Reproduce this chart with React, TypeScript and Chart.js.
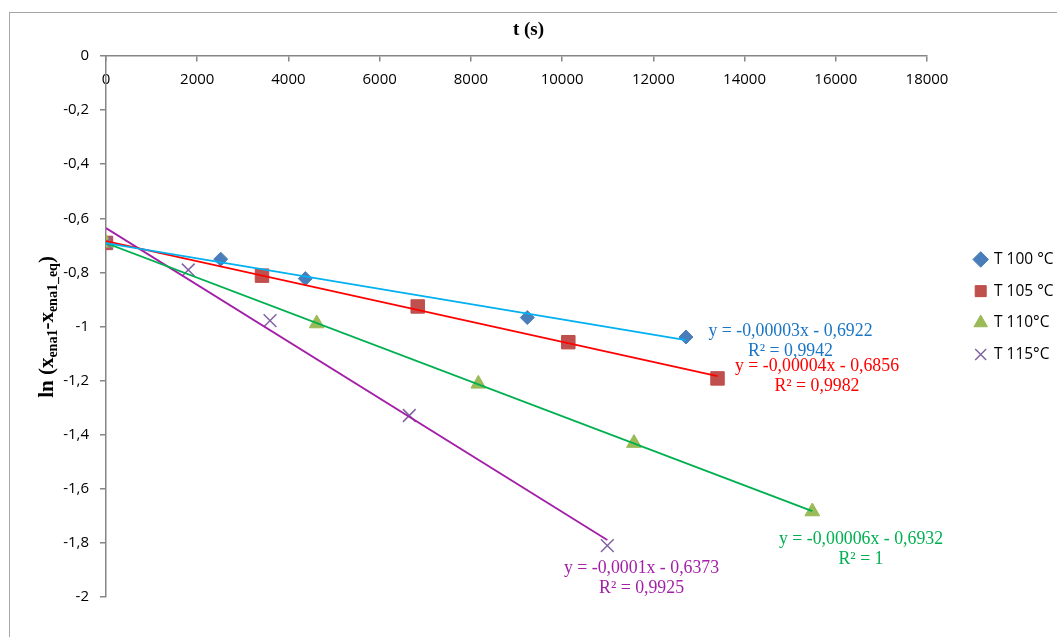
import React, { useEffect, useRef } from 'react';
import { Chart, registerables } from 'chart.js';

Chart.register(...registerables);

// ---------- data ----------
const seriesNames = ['T 100 °C', 'T 105 °C', 'T 110°C', 'T 115°C'];

const t100X = [0, 2515, 4370, 9237, 12716];
const t100Y = [-0.691, -0.751, -0.823, -0.967, -1.039];

const t105X = [0, 3420, 6834, 10136, 13407];
const t105Y = [-0.691, -0.812, -0.926, -1.058, -1.192];

const t110X = [0, 4620, 8163, 11576, 15485];
const t110Y = [-0.691, -0.989, -1.212, -1.431, -1.684];

const t115X = [0, 1804, 3596, 6650, 10991];
const t115Y = [-0.691, -0.791, -0.978, -1.329, -1.81];

const equationLabels = [
  'y = -0,00003x - 0,6922',
  'y = -0,00004x - 0,6856',
  'y = -0,00006x - 0,6932',
  'y = -0,0001x - 0,6373',
];
const r2Labels = ['R² = 0,9942', 'R² = 0,9982', 'R² = 1', 'R² = 0,9925'];

const xAxisTitle = 't (s)';
const xTickMin = 0;
const xTickMax = 18000;
const xTickStep = 2000;
const yTickMin = -2;
const yTickMax = 0;
const yTickStep = 0.2;

// ---------- styles ----------
const markerStyles = [
  { pointStyle: 'rectRot', radius: 7, fill: '#4A7EBB', stroke: '#4A7EBB', width: 1 },
  { pointStyle: 'rect', radius: 9.5, fill: '#C0504D', stroke: '#BE4B48', width: 1 },
  { pointStyle: 'triangle', radius: 8.5, fill: '#9BBB59', stroke: '#98B954', width: 1 },
  { pointStyle: 'crossRot', radius: 9, fill: '#8064A2', stroke: '#8064A2', width: 1.5 },
];
const trendColors = ['#00B0F0', '#FF0000', '#00B050', '#A31FA8'];
const labelColors = ['#1A75C4', '#FF0000', '#00B050', '#A31FA8'];
// label anchor (center of first line) in data units
const labelAnchorX = [15007, 15588, 16553, 11741];
const labelAnchorY = [-1.0188, -1.1456, -1.786, -1.893];

const xs = [t100X, t105X, t110X, t115X];
const ys = [t100Y, t105Y, t110Y, t115Y];

function linearFit(x: number[], y: number[]) {
  const n = x.length;
  const mx = x.reduce((a, b) => a + b, 0) / n;
  const my = y.reduce((a, b) => a + b, 0) / n;
  let sxx = 0;
  let sxy = 0;
  for (let i = 0; i < n; i++) {
    sxx += (x[i] - mx) * (x[i] - mx);
    sxy += (x[i] - mx) * (y[i] - my);
  }
  const slope = sxy / sxx;
  const intercept = my - slope * mx;
  const x0 = Math.min(...x);
  const x1 = Math.max(...x);
  return [
    { x: x0, y: intercept + slope * x0 },
    { x: x1, y: intercept + slope * x1 },
  ];
}

const fmtNum = (v: number) => {
  const r = Math.round(v * 10) / 10;
  return String(r === 0 ? 0 : r).replace('.', ',');
};

const framePlugin = {
  id: 'frame',
  beforeDraw(chart: any) {
    const ctx = chart.ctx;
    ctx.save();
    ctx.fillStyle = '#ffffff';
    ctx.fillRect(0, 0, chart.width, chart.height);
    ctx.strokeStyle = '#A6A6A6';
    ctx.lineWidth = 1;
    ctx.strokeRect(9.5, 12.5, chart.width + 20, chart.height + 20);
    ctx.restore();
  },
};

const yTitlePlugin = {
  id: 'yTitle',
  afterDraw(chart: any) {
    const ctx = chart.ctx;
    const big = 'bold 21px "Liberation Serif"';
    const small = 'bold 14px "Liberation Serif"';
    const segs = [
      { t: 'ln (', f: big, dy: 0 },
      { t: 'x', f: big, dy: 0 },
      { t: 'ena1', f: small, dy: 4 },
      { t: '-', f: big, dy: 0 },
      { t: 'x', f: big, dy: 0 },
      { t: 'ena1_eq', f: small, dy: 4 },
      { t: ')', f: big, dy: 0 },
    ];
    ctx.save();
    let total = 0;
    for (const s of segs) {
      ctx.font = s.f;
      total += ctx.measureText(s.t).width;
    }
    ctx.translate(53, 327);
    ctx.rotate(-Math.PI / 2);
    ctx.fillStyle = '#000';
    ctx.textBaseline = 'alphabetic';
    ctx.textAlign = 'left';
    let x = -total / 2;
    for (const s of segs) {
      ctx.font = s.f;
      ctx.fillText(s.t, x, s.dy);
      x += ctx.measureText(s.t).width;
    }
    ctx.restore();
  },
};

const eqLabelPlugin = {
  id: 'eqLabels',
  afterDatasetsDraw(chart: any) {
    const ctx = chart.ctx;
    const sx = chart.scales.x;
    const sy = chart.scales.y;
    ctx.save();
    ctx.font = '17.8px "Liberation Serif"';
    ctx.textAlign = 'center';
    ctx.textBaseline = 'middle';
    for (let i = 0; i < equationLabels.length; i++) {
      const px = sx.getPixelForValue(labelAnchorX[i]);
      const py = sy.getPixelForValue(labelAnchorY[i]);
      ctx.fillStyle = labelColors[i];
      ctx.fillText(equationLabels[i], px, py);
      ctx.fillText(r2Labels[i], px, py + 20);
    }
    ctx.restore();
  },
};

const legendPatch = {
  id: 'legendPatch',
  beforeLayout(chart: any) {
    const lg = chart.legend;
    if (lg && !lg.__patched) {
      const orig = lg.fit.bind(lg);
      lg.fit = function () {
        orig();
        this.width = 100;
      };
      lg.__patched = true;
    }
  },
  afterLayout(chart: any) {
    const lg = chart.legend;
    if (lg) {
      lg.left += 32;
      lg.right += 32;
      lg.top += 2.5;
      lg.bottom += 2.5;
    }
  },
};

export default function App() {
  const ref = useRef<HTMLCanvasElement | null>(null);

  useEffect(() => {
    if (!ref.current) return;
    const markerDatasets = seriesNames.map((name, i) => ({
      label: name,
      data: xs[i].map((x, j) => ({ x, y: ys[i][j] })),
      showLine: false,
      pointStyle: markerStyles[i].pointStyle,
      pointRadius: markerStyles[i].radius,
      pointHoverRadius: markerStyles[i].radius,
      backgroundColor: markerStyles[i].fill,
      borderColor: markerStyles[i].stroke,
      pointBorderWidth: markerStyles[i].width,
      borderWidth: markerStyles[i].width,
      order: 4 - i,
    }));
    const trendDatasets = seriesNames.map((name, i) => ({
      label: name + ' trend',
      data: linearFit(xs[i], ys[i]),
      showLine: true,
      pointRadius: 0,
      borderColor: trendColors[i],
      backgroundColor: trendColors[i],
      borderWidth: 1.8,
      fill: false,
      order: 0,
    }));

    const chart = new Chart(ref.current, {
      type: 'scatter',
      data: { datasets: [...markerDatasets, ...trendDatasets] as any },
      plugins: [framePlugin, yTitlePlugin, eqLabelPlugin, legendPatch],
      options: {
        responsive: false,
        animation: false,
        devicePixelRatio: 1,
        layout: { padding: { left: 30, right: 30, top: 12, bottom: 40 } },
        plugins: {
          tooltip: { enabled: false },
          title: {
            display: true,
            text: xAxisTitle,
            color: '#000',
            font: { family: '"Liberation Serif"', size: 19, weight: 'bold' },
            padding: { top: 7, bottom: 14.2 },
          },
          legend: {
            position: 'right',
            labels: {
              usePointStyle: true,
              boxWidth: 11,
              boxHeight: 11,
              padding: 16.2,
              color: '#000',
              font: { family: '"Open Sans"', size: 15.5 },
              filter: (item: any) => item.datasetIndex < 4,
              sort: (a: any, b: any) => a.datasetIndex - b.datasetIndex,
            },
          },
        },
        scales: {
          x: {
            type: 'linear',
            position: { y: 0 } as any,
            min: xTickMin,
            max: xTickMax,
            ticks: {
              stepSize: xTickStep,
              padding: 10,
              color: '#000',
              font: { family: '"Open Sans"', size: 15 },
              callback: (v: any) => String(v),
              maxRotation: 0,
            },
            grid: {
              drawOnChartArea: false,
              drawTicks: true,
              tickLength: 5,
              color: '#868686',
              lineWidth: 1.5,
            },
            border: { display: true, color: '#868686', width: 1.5 },
          },
          y: {
            type: 'linear',
            position: 'left',
            min: yTickMin,
            max: yTickMax,
            afterFit: (scale: any) => {
              scale.width = 76;
            },
            ticks: {
              stepSize: yTickStep,
              padding: 11,
              color: '#000',
              font: { family: '"Open Sans"', size: 15 },
              callback: (v: any) => fmtNum(Number(v)),
            },
            grid: {
              drawOnChartArea: false,
              drawTicks: true,
              tickLength: 6,
              color: '#868686',
              lineWidth: 1.5,
            },
            border: { display: true, color: '#868686', width: 1.5 },
          },
        },
      } as any,
    });
    return () => chart.destroy();
  }, []);

  return (
    <div style={{ position: 'absolute', left: 0, top: 0, width: 1057, height: 637 }}>
      <canvas ref={ref} width={1057} height={637} style={{ display: 'block' }} />
    </div>
  );
}
